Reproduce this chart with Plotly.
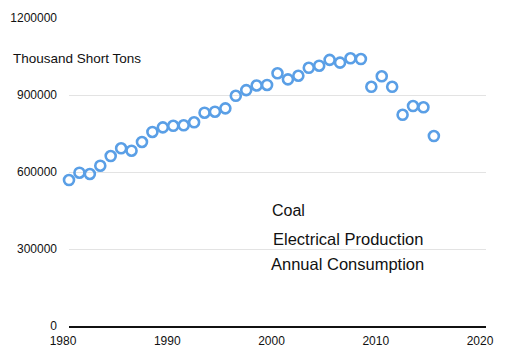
import plotly.graph_objects as go

years = list(range(1980, 2016))
consumption = [
    568800, 597300, 592200, 624600, 662300, 692300, 683000, 716900, 756000, 774000,
    780000, 782000, 793600, 831000, 835000, 848000, 897000, 919000, 937000, 939000,
    984500, 961000, 975000, 1006000, 1014000, 1037000, 1026000, 1043000, 1040000, 932000,
    973000, 932000, 823000, 857000, 852000, 740000,
]
x_ticks = [1980, 1990, 2000, 2010, 2020]
y_ticks = [0, 300000, 600000, 900000, 1200000]

FONT = "Liberation Sans, Arial, Helvetica, sans-serif"

# page offset (body margin) and plot area in figure pixels
OFF = 8
L, T, W, H = 61, 10, 417, 308


def px(xp, yp):
    # convert a page pixel position to paper coordinates
    return (xp - OFF - L) / W, 1 - (yp - OFF - T) / H


fig = go.Figure()
fig.add_trace(go.Scatter(
    x=years, y=consumption, mode="markers", cliponaxis=False,
    marker=dict(symbol="circle-open", size=10, color="#5a9fe6",
                line=dict(width=2.6, color="#5a9fe6")),
    showlegend=False, hoverinfo="x+y",
))

labels = [
    ("Thousand Short Tons", 11, 58, 13.5),
    ("Coal", 269.5, 210, 16),
    ("Electrical Production", 271, 239, 16.5),
    ("Annual Consumption", 269, 263.5, 16.5),
]
annotations = []
for text, xp, yp, fs in labels:
    ax, ay = px(xp, yp)
    annotations.append(dict(text=text, xref="paper", yref="paper", x=ax, y=ay,
                            xanchor="left", yanchor="middle", showarrow=False,
                            font=dict(size=fs, color="#111")))

fig.update_layout(
    width=518, height=358,
    margin=dict(l=L, r=518 - L - W, t=T, b=358 - T - H, autoexpand=False),
    paper_bgcolor="white", plot_bgcolor="white",
    font=dict(family=FONT, size=12, color="#111"),
    xaxis=dict(range=[1980, 2020], tickvals=x_ticks, ticktext=[str(v) for v in x_ticks],
               showgrid=False, zeroline=False, showline=True, linecolor="#111", linewidth=1.5,
               ticks="", ticklabelshift=-6, ticklabelstandoff=3, fixedrange=True),
    yaxis=dict(range=[0, 1200000], tickvals=y_ticks, ticktext=[str(v) for v in y_ticks],
               showgrid=True, gridcolor="#e3e3e3", gridwidth=1, zeroline=False,
               showline=False, ticks="", ticklabelstandoff=11, fixedrange=True),
    annotations=annotations,
)

fig.write_html("out.html")
